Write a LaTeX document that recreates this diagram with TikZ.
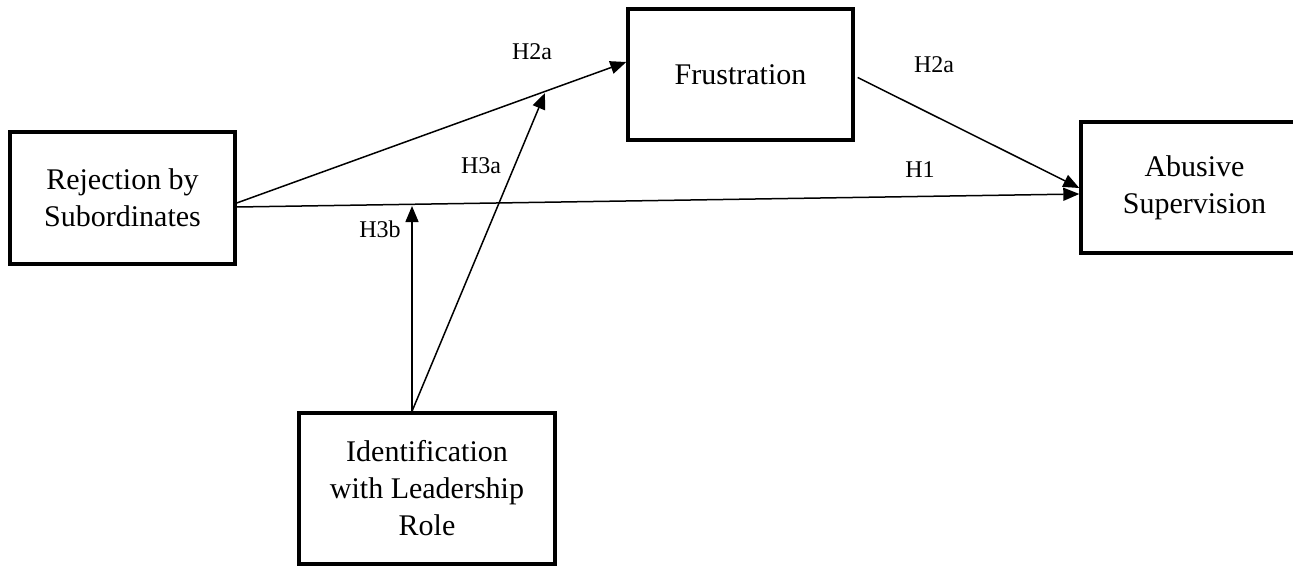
\documentclass[tikz,border=0pt]{standalone}
\usepackage{fontspec}
\setmainfont{Liberation Serif}
\usetikzlibrary{arrows.meta}
\begin{document}
\begin{tikzpicture}[x=1pt,y=-1pt,
  box/.style={draw,line width=3.4pt,rectangle,inner sep=0pt,align=center,
    font=\fontsize{30}{37}\selectfont},
  conn/.style={line width=1.5pt,-{Triangle[length=16pt,width=13pt]}},
  lbl/.style={inner sep=0pt,font=\fontsize{24}{28}\selectfont}]
\useasboundingbox (0,0) rectangle (1293,565);
\begin{scope}
\clip (0,0) rectangle (1293,565);
\node[box,minimum width=225pt,minimum height=132pt] (rej) at (122.5,198) {Rejection by\\Subordinates};
\node[box,minimum width=225pt,minimum height=131pt] (fru) at (740.5,74.5) {Frustration};
\node[box,minimum width=227pt,minimum height=131pt] (abu) at (1194.5,187.5) {Abusive\\Supervision};
\node[box,minimum width=256pt,minimum height=151pt] (idn) at (427,488.5) {Identification\\with Leadership\\Role};
\end{scope}
\coordinate (m1) at (412,206);
\coordinate (m2) at (545,93);
\draw[conn] ([yshift=-5pt]rej.east) -- ([yshift=12.5pt]fru.west);
\draw[conn] ([yshift=-9pt]rej.east) -- ([yshift=-6.5pt]abu.west);
\draw[conn] ([xshift=3pt,yshift=-3pt]fru.east) -- ([yshift=-0.5pt]abu.west);
\draw[conn] ([xshift=-15pt]idn.north) -- (m1);
\draw[conn] ([xshift=-15pt]idn.north) -- (m2);
\node[lbl] (l1) at (532,52) {H2a};
\node[lbl] (l2) at (934,65) {H2a};
\node[lbl] (l3) at (481,166) {H3a};
\node[lbl] (l4) at (920,170) {H1};
\node[lbl] (l5) at (380,229) {H3b};
\end{tikzpicture}
\end{document}
